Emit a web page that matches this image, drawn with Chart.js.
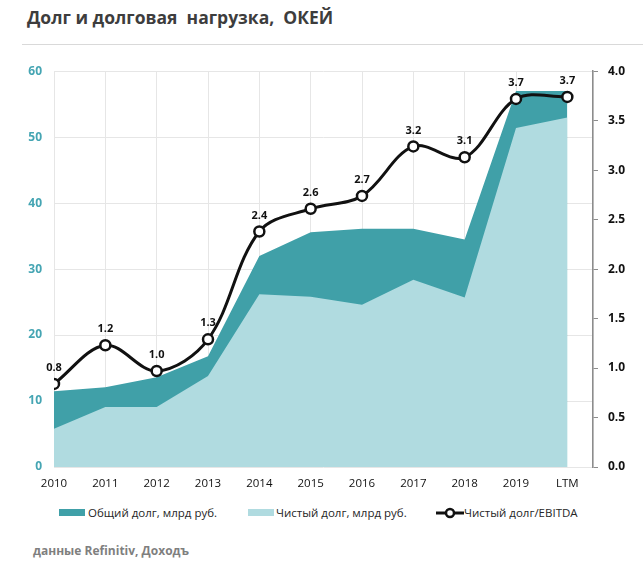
<!DOCTYPE html>
<html>
<head>
<meta charset="utf-8">
<script src="https://cdn.jsdelivr.net/npm/chart.js@4"></script>
<style>
  html, body { margin: 0; padding: 0; background: #fff; }
  body { width: 643px; height: 564px; position: relative; overflow: hidden; font-family: "Open Sans", sans-serif; }
  .title { position: absolute; left: 27px; top: 5px; font-size: 17.5px; font-weight: bold; color: #3d3d3d; white-space: pre; }
  .rule { position: absolute; left: 22px; right: 0; top: 44px; height: 1px; background: #d9d9d9; }
  #wrap { position: absolute; left: 0; top: 52px; width: 643px; height: 448px; }
  .legend { position: absolute; top: 504px; left: 0; width: 643px; height: 18px; font-size: 11.5px; color: #262626; }
  .legend span { position: absolute; top: 0; line-height: 18px; white-space: nowrap; }
  .box { position: absolute; top: 5px; width: 26px; height: 7px; }
  .source { position: absolute; left: 33px; top: 542px; font-size: 12px; font-weight: bold; color: #7f7f7f; }
</style>
</head>
<body>
<div class="title">Долг и долговая  нагрузка,  ОКЕЙ</div>
<div class="rule"></div>
<div id="wrap"><canvas id="debtChart"></canvas></div>
<div class="legend">
  <div class="box" style="left:59px;background:#40a0a8"></div>
  <span style="left:88px">Общий долг, млрд руб.</span>
  <div class="box" style="left:248px;background:#b0dbe0"></div>
  <span style="left:276px">Чистый долг, млрд руб.</span>
  <svg style="position:absolute;left:436px;top:2px" width="28" height="14">
    <line x1="0" y1="7" x2="28" y2="7" stroke="#111" stroke-width="3"/>
    <circle cx="14" cy="7" r="4" fill="#fff" stroke="#111" stroke-width="2.5"/>
  </svg>
  <span style="left:464px">Чистый долг/EBITDA</span>
</div>
<div class="source">данные Refinitiv, Доходъ</div>

<script>
// Данные
const YEARS = ["2010", "2011", "2012", "2013", "2014", "2015", "2016", "2017", "2018", "2019", "LTM"];
const TOTAL_DEBT = [11.5, 12.1, 13.6, 16.8, 32.0, 35.6, 36.1, 36.1, 34.5, 57.0, 57.0];
const NET_DEBT = [5.8, 9.1, 9.1, 13.8, 26.2, 25.8, 24.6, 28.4, 25.7, 51.4, 53.0];
const NET_DEBT_EBITDA = [0.84, 1.23, 0.97, 1.29, 2.38, 2.61, 2.74, 3.24, 3.13, 3.72, 3.74];
const LEFT_TICKS = [0, 10, 20, 30, 40, 50, 60];
const RIGHT_TICKS = [0.0, 0.5, 1.0, 1.5, 2.0, 2.5, 3.0, 3.5, 4.0];

const TEAL = '#40a0a8';
const LIGHT = '#b0dbe0';

const toPoints = arr => arr.map((v, i) => ({ x: i, y: v }));

// Подписи над точками
const pointLabels = {
  id: 'pointLabels',
  afterDatasetsDraw(chart) {
    const ctx = chart.ctx;
    const meta = chart.getDatasetMeta(2);
    ctx.save();
    ctx.font = 'bold 11px "Open Sans", sans-serif';
    ctx.fillStyle = '#111';
    ctx.textAlign = 'center';
    ctx.textBaseline = 'middle';
    meta.data.forEach((pt, i) => {
      ctx.fillText(NET_DEBT_EBITDA[i].toFixed(1), pt.x, pt.y - 16);
    });
    ctx.restore();
  }
};

const ctx = document.getElementById('debtChart').getContext('2d');
new Chart(ctx, {
  type: 'line',
  data: {
    datasets: [
      {
        label: 'Общий долг, млрд руб.',
        data: toPoints(TOTAL_DEBT),
        yAxisID: 'y',
        backgroundColor: TEAL,
        borderWidth: 0,
        pointRadius: 0,
        fill: 'origin',
        tension: 0,
        order: 3
      },
      {
        label: 'Чистый долг, млрд руб.',
        data: toPoints(NET_DEBT),
        yAxisID: 'y',
        backgroundColor: LIGHT,
        borderWidth: 0,
        pointRadius: 0,
        fill: 'origin',
        tension: 0,
        order: 2
      },
      {
        label: 'Чистый долг/EBITDA',
        data: toPoints(NET_DEBT_EBITDA),
        yAxisID: 'y1',
        borderColor: '#111',
        borderWidth: 3,
        pointRadius: 5,
        pointBorderWidth: 2.5,
        pointBackgroundColor: '#fff',
        pointBorderColor: '#111',
        fill: false,
        tension: 0.35,
        order: 1
      }
    ]
  },
  options: {
    responsive: true,
    maintainAspectRatio: false,
    animation: false,
    layout: { padding: { top: 12, right: 0, left: 0, bottom: 0 } },
    plugins: {
      legend: { display: false },
      tooltip: { enabled: false }
    },
    scales: {
      x: {
        type: 'linear',
        min: 0,
        max: 10.5,
        afterFit: s => { s.height = 33; },
        afterBuildTicks: s => {
          s.ticks = YEARS.map((_, i) => ({ value: i })).concat([{ value: 10.5 }]);
        },
        grid: {
          drawTicks: false,
          color: c => (c.tick && c.tick.value === 10) ? 'rgba(0,0,0,0)' : '#e6e6e6'
        },
        border: { display: false },
        ticks: {
          padding: 10,
          color: '#111',
          font: { family: 'Open Sans', size: 11.5 },
          callback: v => YEARS[v] !== undefined && Number.isInteger(v) ? YEARS[v] : ''
        }
      },
      y: {
        position: 'left',
        min: 0,
        max: 60,
        afterFit: s => { s.width = 54; },
        afterBuildTicks: s => { s.ticks = LEFT_TICKS.map(v => ({ value: v })); },
        grid: { drawTicks: false, color: '#e6e6e6' },
        border: { display: false },
        ticks: {
          padding: 12,
          color: '#45a5b3',
          font: { family: 'Open Sans', size: 12, weight: 'bold' }
        }
      },
      y1: {
        position: 'right',
        min: 0,
        max: 4,
        afterFit: s => { s.width = 50; },
        afterBuildTicks: s => { s.ticks = RIGHT_TICKS.map(v => ({ value: v })); },
        grid: { drawOnChartArea: false, drawTicks: true, tickLength: 5, color: '#8c8c8c' },
        border: { display: true, color: '#8c8c8c', width: 1.5 },
        ticks: {
          padding: 10,
          color: '#111',
          font: { family: 'Open Sans', size: 12, weight: 'bold' },
          callback: v => v.toFixed(1)
        }
      }
    }
  },
  plugins: [pointLabels]
});
</script>
</body>
</html>
